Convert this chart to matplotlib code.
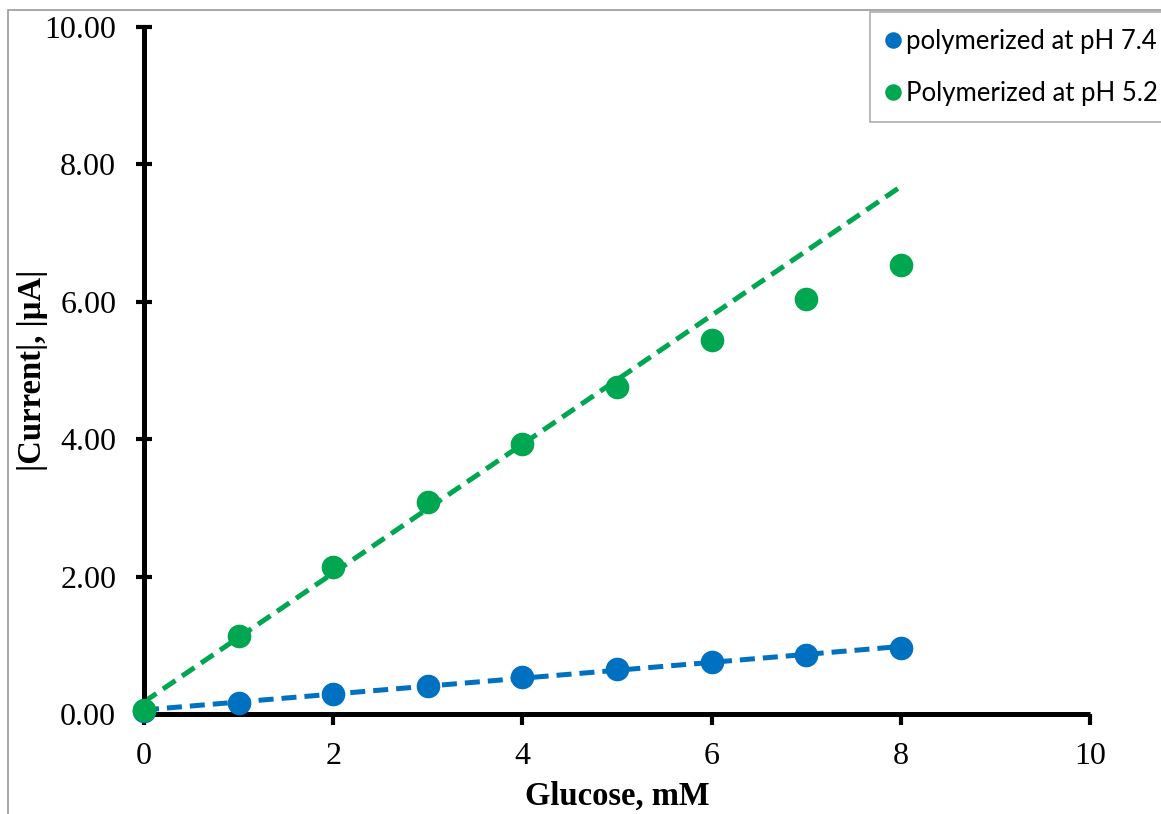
import matplotlib
matplotlib.use("Agg")
import matplotlib.pyplot as plt
import numpy as np
from matplotlib.patches import Rectangle

# data
glucose_mM = [0, 1, 2, 3, 4, 5, 6, 7, 8]
current_ph74 = [0.05, 0.16, 0.29, 0.41, 0.54, 0.66, 0.76, 0.86, 0.96]
current_ph52 = [0.06, 1.14, 2.14, 3.09, 3.93, 4.76, 5.44, 6.04, 6.54]
label_ph74 = "polymerized at pH 7.4"
label_ph52 = "Polymerized at pH 5.2"
x_ticks = [0, 2, 4, 6, 8, 10]
y_ticks = [0, 2, 4, 6, 8, 10]

BLUE = "#0070C0"
GREEN = "#00A650"

fig = plt.figure(figsize=(11.61, 8.14), dpi=100)
fig.patches.append(Rectangle((8 / 1161, -0.1), 1.2, 1 - 10 / 814 + 0.1,
                             transform=fig.transFigure, fill=False,
                             edgecolor="#9a9a9a", linewidth=1.2))
ax = fig.add_axes([144 / 1161, 1 - 714 / 814, 946 / 1161, 687 / 814])

x = np.array(glucose_mM, dtype=float)
# linear trendlines: pH 7.4 over all points, pH 5.2 over the linear range (0-5 mM)
k74, b74 = np.polyfit(x, current_ph74, 1)
k52, b52 = np.polyfit(x[:6], current_ph52[:6], 1)
xl = np.array([0, 8])

ax.plot(xl, k74 * xl + b74, color=BLUE, lw=3.6, dashes=(3, 1.6), zorder=2)
ax.plot(xl, k52 * xl + b52, color=GREEN, lw=3.6, dashes=(3, 1.6), zorder=2)
ax.plot(x, current_ph74, "o", color=BLUE, ms=16, label=label_ph74, clip_on=False, zorder=3)
ax.plot(x, current_ph52, "o", color=GREEN, ms=16, label=label_ph52, clip_on=False, zorder=4)

ax.set_xlim(0, 10)
ax.set_ylim(0, 10)
ax.set_xticks(x_ticks)
ax.set_yticks(y_ticks)
ax.set_yticklabels([f"{v:.2f}" for v in y_ticks])

for s in ["top", "right"]:
    ax.spines[s].set_visible(False)
for s in ["left", "bottom"]:
    ax.spines[s].set_linewidth(3.6)
    ax.spines[s].set_capstyle("butt")

ax.tick_params(axis="y", direction="inout", length=12, width=3, pad=14)
ax.tick_params(axis="x", direction="out", length=8, width=3, pad=12)
for lab in ax.get_xticklabels() + ax.get_yticklabels():
    lab.set_fontfamily("Liberation Serif")
    lab.set_fontsize(23)

ax.set_xlabel("Glucose, mM", fontfamily="Liberation Serif", fontsize=23.5,
              fontweight="bold", labelpad=7)
ax.set_ylabel("|Current|, |\u00b5A|", fontfamily="Liberation Serif", fontsize=23.5,
              fontweight="bold")
ax.yaxis.set_label_coords(-96 / 946, 0.5)

leg = fig.legend(loc="upper left", bbox_to_anchor=(870 / 1161, 1 - 12 / 814),
                 prop={"family": "Lato", "size": 18.5}, frameon=True, fancybox=False,
                 handlelength=0.5, handletextpad=0.25, markerscale=0.68,
                 labelspacing=1.05, borderpad=0.65, borderaxespad=0)
leg.get_frame().set_edgecolor("#9a9a9a")
leg.get_frame().set_linewidth(1.2)

fig.savefig("out.png", dpi=100)
